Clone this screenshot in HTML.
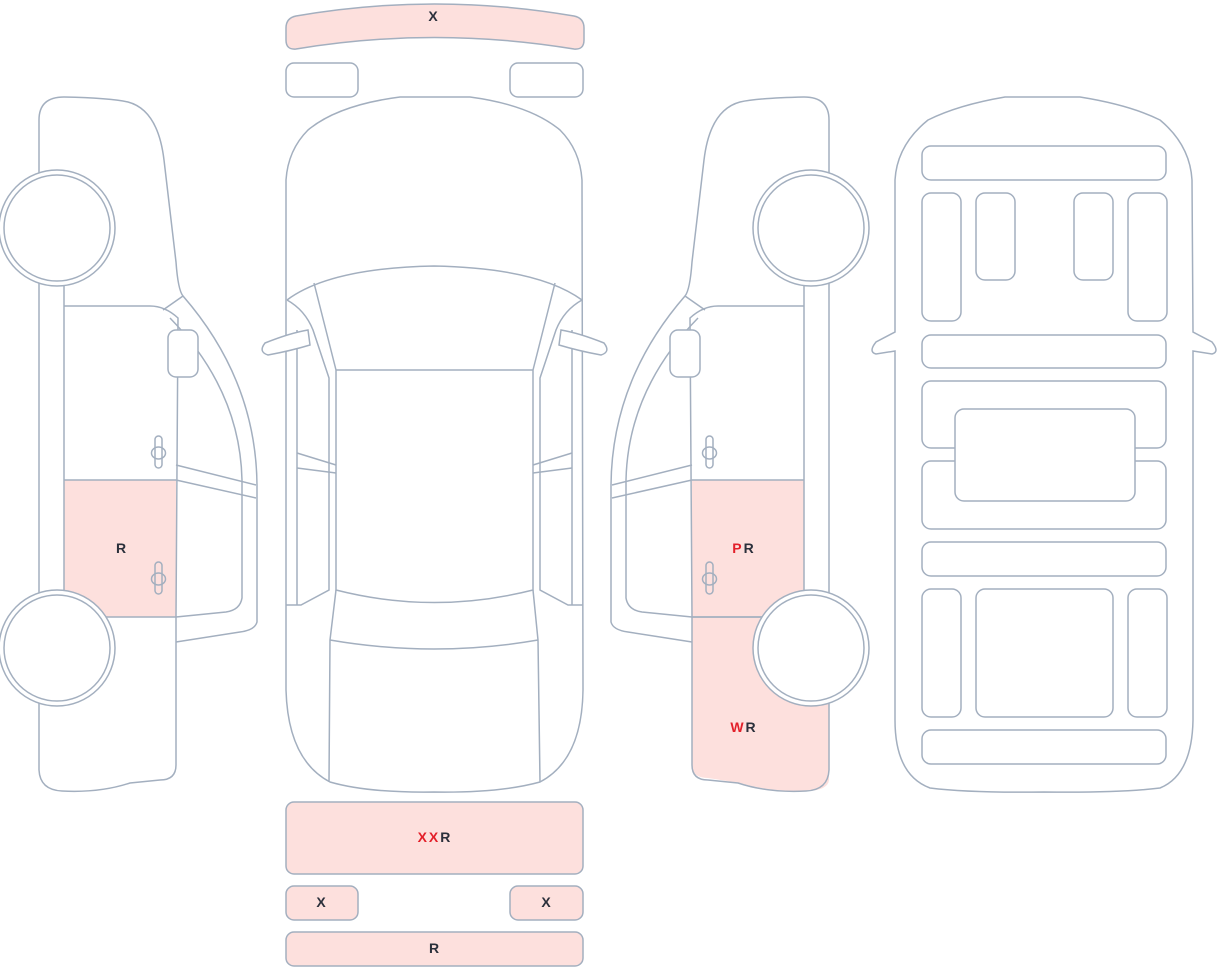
<!DOCTYPE html>
<html><head><meta charset="utf-8"><style>
html,body{margin:0;padding:0;background:#fff;}
svg{display:block;}
text{font-family:"Liberation Sans",sans-serif;font-size:14px;font-weight:bold;fill:#2b303b;text-anchor:middle;dominant-baseline:central;letter-spacing:2px;}
.r{fill:#e3202a;}
</style></head><body>
<svg width="1220" height="967" viewBox="0 0 1220 967" xmlns="http://www.w3.org/2000/svg">
<defs>
<g id="side">
  <path d="M39,120 Q39,97 64,97 Q110,98 128,102 Q158,110 164,160 L176,262 Q178,290 183,296 Q256,380 257,485 L257,622 Q255,630 240,632 L176,642" fill="none"/>
  <path d="M39,120 L39,770 Q40,790 62,791 Q100,793 130,783 L160,780 Q176,780 176,765 L176,617"/>
  <path d="M183,296 L163,310 M170,318 Q240,390 242,480 L242,598 Q240,610 226,612 L176,617" fill="none"/>
  <path d="M64,282 L64,598 M64,306 L150,306 Q165,306 178,318 L176,617 M176,465 L256,485 M176,480 L256,498 M100,617 L176,617" fill="none"/>
  <rect x="168" y="330" width="30" height="47" rx="8" fill="#fff"/>
  <rect x="155" y="436" width="7" height="32" rx="3.5" fill="none"/>
  <ellipse cx="158.5" cy="453" rx="7" ry="6" fill="none"/>
  <rect x="155" y="562" width="7" height="32" rx="3.5" fill="none"/>
  <ellipse cx="158.5" cy="579" rx="7" ry="6" fill="none"/>
  <circle cx="57" cy="228" r="58" fill="#fff"/><circle cx="57" cy="228" r="53" fill="#fff"/>
  <circle cx="57" cy="648" r="58" fill="#fff"/><circle cx="57" cy="648" r="53" fill="#fff"/>
</g>
</defs>
<g stroke="#a3afbf" stroke-width="1.5" fill="none">
  <rect x="64" y="480" width="112" height="137" fill="#fde0dd" stroke="none"/>
  <path d="M64,480 L176,480" />
  <use href="#side"/>
  <path d="M692,480 L804,480 L804,617 L829,617 L829,780 Q828,790 808,791 Q770,792 740,783 L708,778 Q692,778 692,765 Z" fill="#fde0dd" stroke="none"/>
  <path d="M692,480 L804,480 M692,617 L780,617"/>
  <use href="#side" transform="translate(868,0) scale(-1,1)"/>

  <path d="M400,97 L470,97 Q530,105 560,130 Q580,150 582,180 L583,690 Q582,760 540,782 Q500,793 434,792 Q368,793 330,782 Q288,760 286,690 L286,180 Q288,150 308,130 Q338,105 400,97 Z" fill="#fff"/>
  <path d="M287,300 Q330,268 434,266 Q538,268 582,300"/>
  <path d="M314,283 L336,370 M555,283 L533,370 M336,370 L533,370 L533,590 Q434,615 336,590 Z"/>
  <path d="M287,300 Q305,310 313,330 L329,378 L329,590 L301,605 L286,605 M297,330 L297,605"/>
  <path d="M582,300 Q564,310 556,330 L540,378 L540,590 L568,605 L583,605 M572,330 L572,605"/>
  <path d="M297,453 L336,465 M297,468 L336,473 M572,453 L533,465 M572,468 L533,473"/>
  <path d="M336,590 L330,640 Q434,658 538,640 L533,590 M330,640 L329,782 M538,640 L540,782"/>
  <path d="M308,330 Q290,333 265,343 Q258,352 268,355 Q290,351 310,345 Z" fill="#fff"/>
  <path d="M561,330 Q579,333 604,343 Q611,352 601,355 Q579,351 559,345 Z" fill="#fff"/>

  <path d="M286,28 Q286,18 296,16 Q434,-8 574,16 Q584,18 584,28 L584,40 Q584,50 574,49 Q434,26 296,49 Q286,50 286,40 Z" fill="#fde0dd"/>
  <rect x="286" y="63" width="72" height="34" rx="8" fill="#fff"/>
  <rect x="510" y="63" width="73" height="34" rx="8" fill="#fff"/>
  <rect x="286" y="802" width="297" height="72" rx="8" fill="#fde0dd"/>
  <rect x="286" y="886" width="72" height="34" rx="8" fill="#fde0dd"/>
  <rect x="510" y="886" width="73" height="34" rx="8" fill="#fde0dd"/>
  <rect x="286" y="932" width="297" height="34" rx="8" fill="#fde0dd"/>

  <path d="M1005,97 L1080,97 Q1130,105 1160,120 Q1190,145 1192,180 L1193,332 L1212,342 Q1220,352 1212,354 L1193,351 L1193,720 Q1192,775 1160,788 Q1120,793 1044,792 Q970,793 930,788 Q895,775 895,720 L895,351 L876,354 Q868,352 876,342 L895,332 L895,180 Q897,145 928,120 Q958,105 1005,97 Z" fill="#fff"/>
  <rect x="922" y="146" width="244" height="34" rx="9"/>
  <rect x="922" y="193" width="39" height="128" rx="9"/>
  <rect x="976" y="193" width="39" height="87" rx="9"/>
  <rect x="1074" y="193" width="39" height="87" rx="9"/>
  <rect x="1128" y="193" width="39" height="128" rx="9"/>
  <rect x="922" y="335" width="244" height="33" rx="9"/>
  <rect x="922" y="381" width="244" height="67" rx="9"/>
  <rect x="922" y="461" width="244" height="68" rx="9"/>
  <rect x="955" y="409" width="180" height="92" rx="9" fill="#fff"/>
  <rect x="922" y="542" width="244" height="34" rx="9"/>
  <rect x="922" y="589" width="39" height="128" rx="9"/>
  <rect x="976" y="589" width="137" height="128" rx="9"/>
  <rect x="1128" y="589" width="39" height="128" rx="9"/>
  <rect x="922" y="730" width="244" height="34" rx="9"/>
</g>
<text x="434" y="16">X</text>
<text x="122" y="548">R</text>
<text x="744" y="548"><tspan class="r">P</tspan>R</text>
<text x="744" y="727"><tspan class="r">W</tspan>R</text>
<text x="435" y="837"><tspan class="r">XX</tspan>R</text>
<text x="322" y="902">X</text>
<text x="547" y="902">X</text>
<text x="435" y="948">R</text>
</svg>
</body></html>
